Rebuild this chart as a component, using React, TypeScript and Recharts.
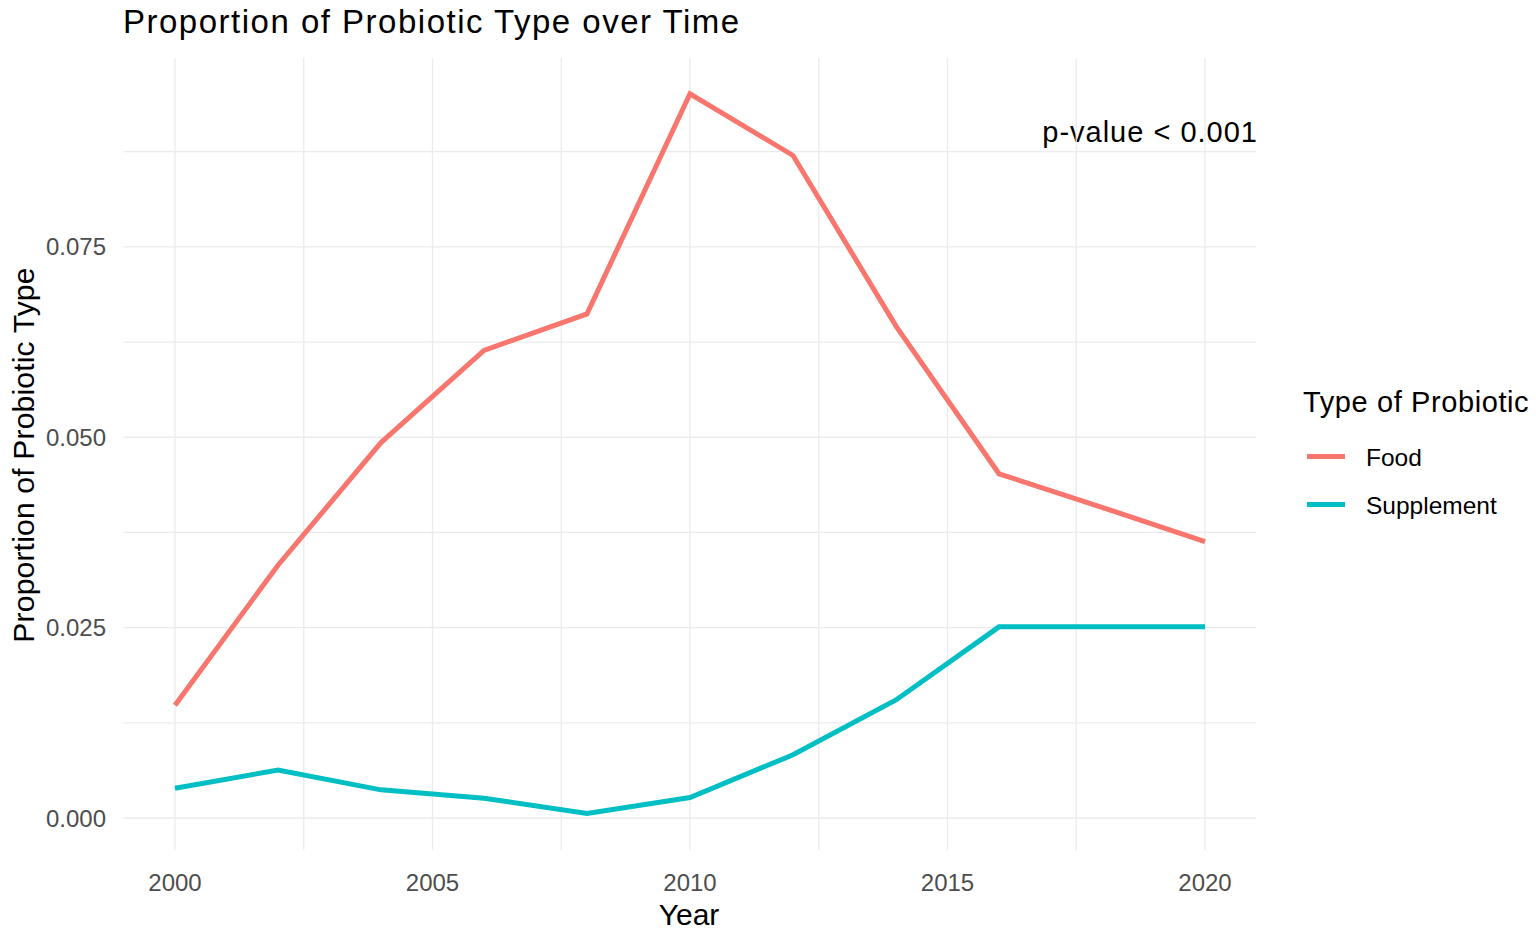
import React from 'react'
import { LineChart, Line, XAxis, YAxis, ReferenceLine } from 'recharts'

const years = [2000, 2002, 2004, 2006, 2008, 2010, 2012, 2014, 2016, 2018, 2020]
const food = [0.0148, 0.0332, 0.0493, 0.0614, 0.0662, 0.0951, 0.087, 0.0646, 0.0452, 0.0408, 0.0363]
const supplement = [0.0039, 0.0063, 0.0037, 0.0026, 0.0006, 0.0027, 0.0083, 0.0155, 0.0251, 0.0251, 0.0251]

const xTicks = [2000, 2002.5, 2005, 2007.5, 2010, 2012.5, 2015, 2017.5, 2020]
const xLabels = [2000, 2005, 2010, 2015, 2020]
const yTicks = [0, 0.0125, 0.025, 0.0375, 0.05, 0.0625, 0.075, 0.0875]
const yLabels = [0, 0.025, 0.05, 0.075]

const series = [
  { key: 'Food', color: '#F8766D' },
  { key: 'Supplement', color: '#00BFC4' },
]

const data = years.map((year, i) => ({ year, Food: food[i], Supplement: supplement[i] }))

const font = '"Liberation Sans", Arial, sans-serif'
const gridColor = '#ebebeb'

function LegendBox() {
  return (
    <div style={{ position: 'absolute', left: 1303, top: 386, fontFamily: font, color: '#000', whiteSpace: 'nowrap' }}>
      <div style={{ fontSize: 29, letterSpacing: 0.6, marginBottom: 13 }}>Type of Probiotic</div>
      {series.map(s => (
        <div key={s.key} style={{ display: 'flex', alignItems: 'center', height: 48 }}>
          <div style={{ width: 38, height: 5, background: s.color, marginLeft: 4, marginRight: 21 }} />
          <span style={{ fontSize: 24.5, position: 'relative', top: 2 }}>{s.key}</span>
        </div>
      ))}
    </div>
  )
}

export default function App() {
  return (
    <div style={{ position: 'absolute', left: 0, top: 0, width: 1536, height: 939, background: '#fff', fontFamily: font }}>
      <div style={{ position: 'absolute', left: 123, top: 3, fontSize: 33, letterSpacing: 1.5, color: '#000', whiteSpace: 'nowrap' }}>
        Proportion of Probiotic Type over Time
      </div>
      <div style={{ position: 'absolute', right: 1536 - 1258, top: 116, fontSize: 29, letterSpacing: 1, color: '#000', whiteSpace: 'nowrap' }}>
        p-value &lt; 0.001
      </div>
      <div style={{ position: 'absolute', left: 689, top: 898, transform: 'translateX(-50%)', fontSize: 30, color: '#000' }}>
        Year
      </div>
      <div style={{ position: 'absolute', left: 24, top: 455, transform: 'translate(-50%, -50%) rotate(-90deg)', fontSize: 30, letterSpacing: 0.2, color: '#000', whiteSpace: 'nowrap' }}>
        Proportion of Probiotic Type
      </div>
      <LegendBox />
      <LineChart width={1536} height={939} data={data} margin={{ top: 58, right: 279.5, bottom: 0, left: 0 }}>
        <XAxis
          dataKey="year"
          type="number"
          domain={[1999, 2021]}
          ticks={xTicks}
          interval={0}
          height={89}
          axisLine={false}
          tickLine={false}
          tickSize={0}
          tickMargin={24}
          tick={{ fill: '#4d4d4d', fontSize: 24, fontFamily: font }}
          tickFormatter={(v: number) => (xLabels.includes(v) ? String(v) : '')}
        />
        <YAxis
          type="number"
          domain={[-0.0042, 0.0998]}
          ticks={yTicks}
          interval={0}
          width={123.5}
          axisLine={false}
          tickLine={false}
          tickSize={0}
          tickMargin={17.5}
          tick={{ fill: '#4d4d4d', fontSize: 24, fontFamily: font }}
          tickFormatter={(v: number) => (yLabels.includes(v) ? v.toFixed(3) : '')}
        />
        {yTicks.map(v => (
          <ReferenceLine key={'y' + v} y={v} stroke={gridColor} strokeWidth={1.3} />
        ))}
        {xTicks.map(v => (
          <ReferenceLine key={'x' + v} x={v} stroke={gridColor} strokeWidth={1.3} />
        ))}
        {series.map(s => (
          <Line
            key={s.key}
            type="linear"
            dataKey={s.key}
            stroke={s.color}
            strokeWidth={5}
            dot={false}
            activeDot={false}
            isAnimationActive={false}
          />
        ))}
      </LineChart>
    </div>
  )
}
